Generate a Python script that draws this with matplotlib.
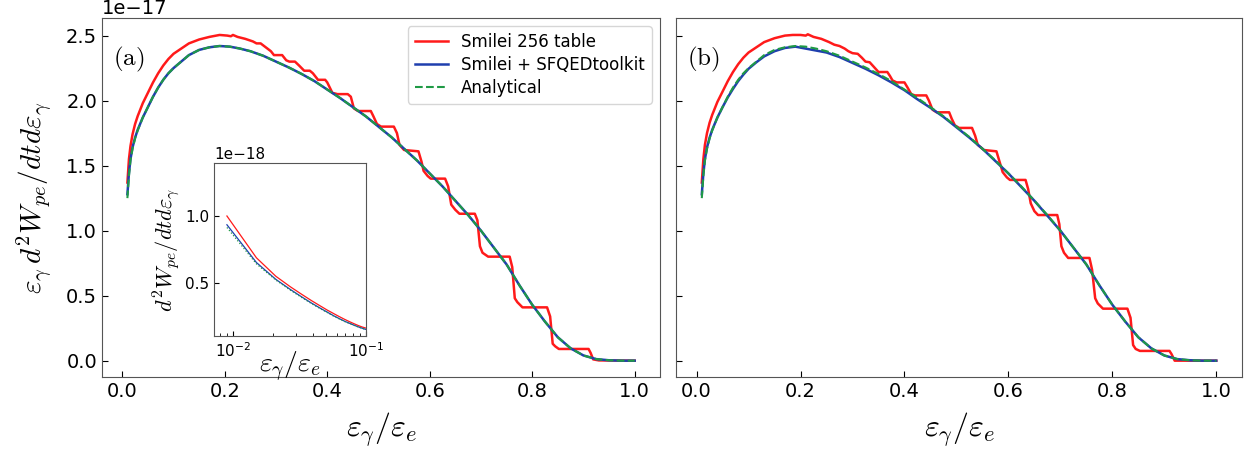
import matplotlib
matplotlib.use("Agg")
import matplotlib.pyplot as plt
import numpy as np

plt.rcParams['mathtext.fontset'] = 'cm'
plt.rcParams['font.family'] = ['DejaVu Sans']

# ---------------- data (values in units of 1e-17) ----------------
x_smooth = [0.010, 0.013, 0.016, 0.020, 0.025, 0.030, 0.040, 0.050, 0.060, 0.070,
            0.080, 0.090, 0.100, 0.115, 0.130, 0.150, 0.170, 0.190, 0.210, 0.230,
            0.250, 0.275, 0.300, 0.325, 0.350, 0.375, 0.400, 0.425, 0.450, 0.475,
            0.500, 0.525, 0.550, 0.575, 0.600, 0.625, 0.650, 0.675, 0.700, 0.725,
            0.750, 0.775, 0.800, 0.825, 0.850, 0.875, 0.900, 0.925, 0.950, 0.975, 1.000]
analytical = [1.25, 1.42, 1.54, 1.63, 1.71, 1.77, 1.87, 1.95, 2.03, 2.10,
              2.16, 2.21, 2.25, 2.30, 2.35, 2.39, 2.41, 2.42, 2.415, 2.40,
              2.38, 2.345, 2.30, 2.255, 2.205, 2.15, 2.085, 2.02, 1.95, 1.88,
              1.80, 1.72, 1.63, 1.54, 1.44, 1.34, 1.23, 1.12, 1.00, 0.87,
              0.74, 0.58, 0.43, 0.30, 0.18, 0.095, 0.04, 0.012, 0.003, 0.0, 0.0]
sfqed_a = [1.28, 1.44, 1.55, 1.64, 1.715, 1.775, 1.87, 1.95, 2.03, 2.10,
           2.16, 2.21, 2.25, 2.30, 2.35, 2.39, 2.41, 2.42, 2.415, 2.40,
           2.38, 2.345, 2.30, 2.255, 2.205, 2.15, 2.085, 2.02, 1.95, 1.88,
           1.80, 1.72, 1.63, 1.54, 1.44, 1.34, 1.23, 1.12, 1.00, 0.87,
           0.74, 0.58, 0.43, 0.30, 0.18, 0.095, 0.04, 0.012, 0.003, 0.0, 0.0]
sfqed_b = [1.28, 1.44, 1.55, 1.64, 1.715, 1.775, 1.87, 1.95, 2.025, 2.09,
           2.15, 2.20, 2.245, 2.295, 2.34, 2.38, 2.405, 2.415, 2.40, 2.385,
           2.37, 2.335, 2.29, 2.245, 2.195, 2.14, 2.08, 2.01, 1.945, 1.875,
           1.795, 1.715, 1.63, 1.535, 1.44, 1.335, 1.23, 1.115, 1.00, 0.87,
           0.74, 0.58, 0.43, 0.30, 0.18, 0.095, 0.04, 0.012, 0.003, 0.0, 0.0]

x_table_a = [0.010, 0.013, 0.016, 0.020, 0.025, 0.030, 0.040, 0.050, 0.060, 0.070,
             0.080, 0.090, 0.100, 0.115, 0.130, 0.150, 0.170, 0.190, 0.205, 0.212,
             0.216, 0.225, 0.240, 0.255, 0.262, 0.270, 0.280, 0.290, 0.296, 0.305,
             0.312, 0.320, 0.326, 0.337, 0.345, 0.355, 0.366, 0.372, 0.382, 0.396,
             0.400, 0.410, 0.420, 0.440, 0.446, 0.452, 0.460, 0.485, 0.490, 0.497,
             0.505, 0.530, 0.536, 0.541, 0.550, 0.578, 0.584, 0.588, 0.596, 0.602,
             0.630, 0.636, 0.642, 0.650, 0.658, 0.688, 0.693, 0.698, 0.703, 0.714,
             0.756, 0.761, 0.766, 0.771, 0.781, 0.829, 0.835, 0.840, 0.845, 0.852,
             0.910, 0.914, 0.919, 0.930, 1.000]
table_a = [1.37, 1.55, 1.65, 1.74, 1.82, 1.88, 1.98, 2.06, 2.14, 2.21,
           2.27, 2.32, 2.36, 2.40, 2.44, 2.47, 2.49, 2.505, 2.50, 2.495,
           2.505, 2.49, 2.475, 2.455, 2.44, 2.44, 2.41, 2.38, 2.35, 2.35,
           2.35, 2.31, 2.30, 2.30, 2.27, 2.23, 2.23, 2.21, 2.16, 2.16,
           2.14, 2.06, 2.05, 2.05, 2.03, 1.94, 1.92, 1.92, 1.88, 1.82,
           1.80, 1.80, 1.75, 1.66, 1.62, 1.61, 1.53, 1.46, 1.42, 1.40,
           1.40, 1.34, 1.20, 1.16, 1.13, 1.13, 1.08, 0.88, 0.83, 0.80,
           0.80, 0.72, 0.48, 0.45, 0.41, 0.41, 0.34, 0.13, 0.11, 0.09,
           0.09, 0.06, 0.01, 0.002, 0.0]

x_table_b = [0.010, 0.013, 0.016, 0.020, 0.025, 0.030, 0.040, 0.050, 0.060, 0.070,
             0.080, 0.090, 0.100, 0.115, 0.130, 0.150, 0.170, 0.185, 0.200, 0.210,
             0.214, 0.225, 0.240, 0.255, 0.265, 0.275, 0.285, 0.292, 0.300, 0.310,
             0.318, 0.325, 0.333, 0.341, 0.350, 0.367, 0.372, 0.377, 0.385, 0.400,
             0.406, 0.413, 0.420, 0.442, 0.447, 0.454, 0.462, 0.486, 0.491, 0.497,
             0.505, 0.530, 0.536, 0.541, 0.553, 0.577, 0.583, 0.589, 0.597, 0.603,
             0.633, 0.638, 0.643, 0.650, 0.657, 0.694, 0.698, 0.702, 0.707, 0.715,
             0.756, 0.761, 0.767, 0.772, 0.782, 0.829, 0.835, 0.840, 0.845, 0.853,
             0.910, 0.914, 0.920, 0.930, 1.000]
table_b = [1.37, 1.55, 1.66, 1.75, 1.83, 1.89, 1.99, 2.07, 2.15, 2.22,
           2.28, 2.33, 2.37, 2.41, 2.45, 2.48, 2.50, 2.505, 2.505, 2.50,
           2.51, 2.49, 2.475, 2.45, 2.43, 2.42, 2.40, 2.38, 2.365, 2.36,
           2.33, 2.30, 2.295, 2.26, 2.22, 2.22, 2.19, 2.155, 2.14, 2.14,
           2.10, 2.05, 2.04, 2.04, 2.00, 1.93, 1.91, 1.91, 1.86, 1.81,
           1.79, 1.79, 1.73, 1.66, 1.62, 1.61, 1.53, 1.45, 1.41, 1.39,
           1.39, 1.32, 1.21, 1.15, 1.12, 1.12, 1.05, 0.88, 0.83, 0.79,
           0.79, 0.70, 0.48, 0.44, 0.40, 0.40, 0.33, 0.12, 0.09, 0.075,
           0.075, 0.05, 0.0, 0.0, 0.0]

# inset data (units of 1e-18)
x_inset = [0.009, 0.015, 0.021, 0.027, 0.033, 0.039, 0.045, 0.051,
           0.057, 0.063, 0.069, 0.075, 0.081, 0.087, 0.093, 0.099]
inset_table = [1.00, 0.69, 0.553, 0.475, 0.418, 0.372, 0.335, 0.303,
               0.277, 0.254, 0.234, 0.217, 0.202, 0.189, 0.178, 0.170]
inset_sfqed = [0.935, 0.655, 0.53, 0.455, 0.399, 0.354, 0.318, 0.288,
               0.261, 0.239, 0.220, 0.205, 0.191, 0.179, 0.169, 0.160]
inset_analytical = [0.915, 0.645, 0.525, 0.450, 0.395, 0.350, 0.315, 0.285,
                    0.258, 0.237, 0.218, 0.203, 0.190, 0.178, 0.168, 0.159]

labels = ["Smilei 256 table", "Smilei + SFQEDtoolkit", "Analytical"]
panel_tags = ["(a)", "(b)"]

RED = "#ff1a1a"
BLUE = "#1f3fae"
GREEN = "#1f9a45"

s17 = 1e-17
s18 = 1e-18

fig = plt.figure(figsize=(12.52, 4.53), dpi=100)
ax_a = fig.add_axes([0.0815, 0.1678, 0.4457, 0.7925])
ax_b = fig.add_axes([0.540, 0.1678, 0.452, 0.7925], sharey=ax_a)

panels = [
    (ax_a, x_table_a, table_a, sfqed_a),
    (ax_b, x_table_b, table_b, sfqed_b),
]
for i, (ax, xt, yt, yb) in enumerate(panels):
    ax.plot(xt, np.array(yt) * s17, color=RED, lw=1.8, label=labels[0])
    ax.plot(x_smooth, np.array(yb) * s17, color=BLUE, lw=1.8, label=labels[1])
    ax.plot(x_smooth, np.array(analytical) * s17, color=GREEN, lw=1.5, ls="--",
            label=labels[2])
    ax.tick_params(direction="in", labelsize=14, length=4)
    ax.set_xticks([0.0, 0.2, 0.4, 0.6, 0.8, 1.0])
    ax.set_xlabel(r"$\varepsilon_\gamma/\varepsilon_e$", fontsize=23, labelpad=7)
    ax.text(0.02, 0.885, r"$\mathrm{" + panel_tags[i] + "}$", transform=ax.transAxes,
            fontsize=18, va="center", ha="left")
    for sp in ax.spines.values():
        sp.set_color("#555555")

ax_a.set_yticks([0.0, 0.5e-17, 1.0e-17, 1.5e-17, 2.0e-17, 2.5e-17])
ax_a.yaxis.get_offset_text().set_fontsize(14)
ax_a.set_ylabel(r"$\varepsilon_\gamma\, d^2W_{pe}/dtd\varepsilon_\gamma$", fontsize=21,
                labelpad=9)
plt.setp(ax_b.get_yticklabels(), visible=False)
ax_b.yaxis.get_offset_text().set_visible(False)

ax_a.legend(loc="upper right", fontsize=12, handlelength=2.0, framealpha=0.8,
            labelspacing=0.3)

# inset
axin = ax_a.inset_axes([0.2007, 0.114, 0.2724, 0.481])
axin.plot(x_inset, np.array(inset_table) * s18, color=RED, lw=0.9)
axin.plot(x_inset, np.array(inset_sfqed) * s18, color=BLUE, lw=0.9)
axin.plot(x_inset, np.array(inset_analytical) * s18, color=GREEN, lw=0.9, ls=":")
axin.set_xscale("log")
axin.set_xlim(0.0072, 0.1)
axin.set_ylim(0.11e-18, 1.39e-18)
axin.set_yticks([0.5e-18, 1.0e-18])
axin.tick_params(direction="in", labelsize=11, which="both")
axin.yaxis.get_offset_text().set_fontsize(11)
axin.set_xlabel(r"$\varepsilon_\gamma/\varepsilon_e$", fontsize=20, labelpad=-7)
axin.set_ylabel(r"$d^2W_{pe}/dtd\varepsilon_\gamma$", fontsize=16, labelpad=2)
for sp in axin.spines.values():
    sp.set_color("#555555")

fig.savefig("out.png", dpi=100)
